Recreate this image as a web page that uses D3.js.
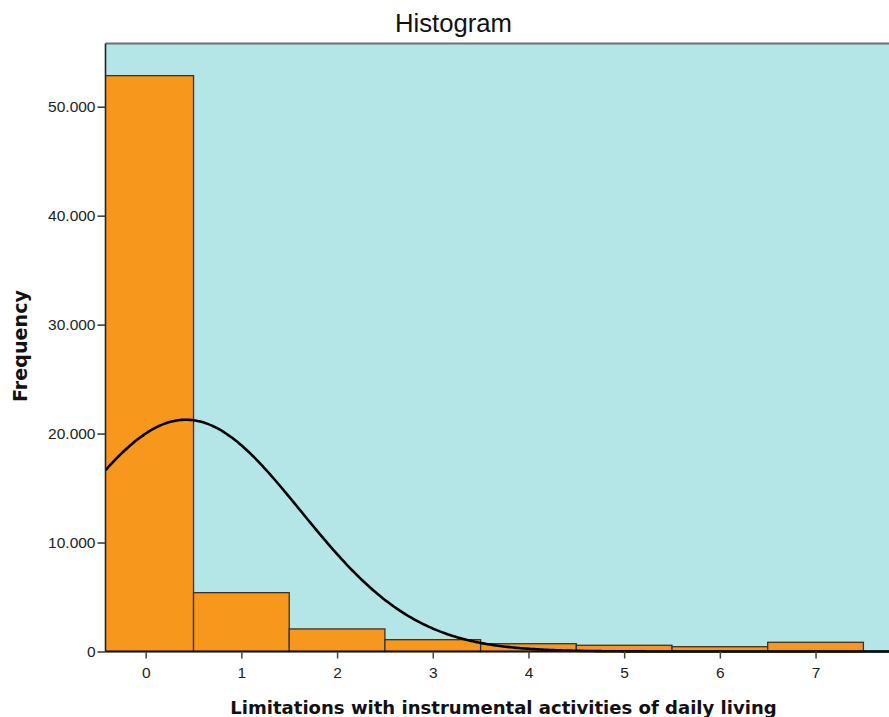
<!DOCTYPE html>
<html>
<head>
<meta charset="utf-8">
<script src="https://cdn.jsdelivr.net/npm/d3@7/dist/d3.min.js"></script>
<style>
  html, body { margin: 0; padding: 0; background: #ffffff; }
  svg { display: block; }
</style>
</head>
<body>
<svg id="chart" width="889" height="717"></svg>
<script>
// Number of limitations (bin centres) and counts per bin
const categories = [0, 1, 2, 3, 4, 5, 6, 7];
const frequencies = [52850, 5400, 2070, 1085, 715, 570, 440, 845];
const xTickValues = [0, 1, 2, 3, 4, 5, 6, 7];
const yTickValues = [0, 10000, 20000, 30000, 40000, 50000];
// Fitted normal curve parameters
const curveMean = 0.42;
const curveSd = 1.2;

const svg = d3.select("#chart");
const W = 889, H = 717;
const plot = { left: 105.5, top: 43.5, right: 905, bottom: 651.5 };

const x = d3.scaleLinear().domain([-0.42, 7.94]).range([plot.left, plot.left + 800]);
const y = d3.scaleLinear().domain([0, 55800]).range([plot.bottom, plot.top]);

const total = d3.sum(frequencies);
const binWidth = 1;

svg.append("defs").append("clipPath").attr("id", "plot-clip")
  .append("rect")
  .attr("x", plot.left).attr("y", plot.top - 2)
  .attr("width", W - plot.left + 10).attr("height", plot.bottom - plot.top + 4);

// plot background
svg.append("rect")
  .attr("x", plot.left).attr("y", plot.top)
  .attr("width", W - plot.left + 10).attr("height", plot.bottom - plot.top)
  .attr("fill", "#b4e6e8");

// top frame line
svg.append("line")
  .attr("x1", plot.left).attr("x2", W + 5)
  .attr("y1", plot.top).attr("y2", plot.top)
  .attr("stroke", "#6f6f6f").attr("stroke-width", 2);

const inner = svg.append("g").attr("clip-path", "url(#plot-clip)");

// bars
inner.append("g").selectAll("rect")
  .data(categories)
  .join("rect")
  .attr("x", (d) => x(d - binWidth / 2))
  .attr("width", (d) => x(d + binWidth / 2) - x(d - binWidth / 2))
  .attr("y", (d, i) => y(frequencies[i]))
  .attr("height", (d, i) => y(0) - y(frequencies[i]))
  .attr("fill", "#f7981d")
  .attr("stroke", "#3b3226")
  .attr("stroke-width", 1.3);

// normal curve
const normal = (v) => total * binWidth / (curveSd * Math.sqrt(2 * Math.PI)) *
  Math.exp(-0.5 * Math.pow((v - curveMean) / curveSd, 2));
const curvePts = d3.range(-0.42, 7.95, 0.02).map((v) => [v, normal(v)]);
inner.append("path")
  .datum(curvePts)
  .attr("fill", "none")
  .attr("stroke", "#000")
  .attr("stroke-width", 2.6)
  .attr("d", d3.line().x((d) => x(d[0])).y((d) => y(d[1])).curve(d3.curveBasis));

// axes
const locale = d3.formatLocale({ decimal: ",", thousands: ".", grouping: [3], currency: ["", ""] });
const fmt = locale.format(",");

const yAxis = svg.append("g")
  .attr("transform", `translate(${plot.left},0)`)
  .call(d3.axisLeft(y).tickValues(yTickValues).tickFormat(fmt).tickSize(8).tickPadding(2));
yAxis.select(".domain").attr("stroke", "#222").attr("stroke-width", 1.6).attr("d", `M0,${plot.top}V${plot.bottom}`);
yAxis.selectAll(".tick line").attr("stroke", "#333").attr("stroke-width", 1.5);
yAxis.selectAll(".tick text")
  .attr("font-family", "Liberation Sans, Arial, sans-serif")
  .attr("font-size", 15.5).attr("fill", "#222");

const xAxis = svg.append("g")
  .attr("transform", `translate(0,${plot.bottom})`)
  .call(d3.axisBottom(x).tickValues(xTickValues).tickFormat(d3.format("d")).tickSize(7).tickPadding(8));
xAxis.select(".domain").attr("stroke", "#111").attr("stroke-width", 1.8).attr("d", `M${plot.left},0H${W + 5}`);
xAxis.selectAll(".tick line").attr("stroke", "#444").attr("stroke-width", 1.5);
xAxis.selectAll(".tick text")
  .attr("font-family", "Liberation Sans, Arial, sans-serif")
  .attr("font-size", 15.5).attr("fill", "#222");

// text labels, sized to a target width
function fitText(sel, width) {
  const len = sel.node().getComputedTextLength();
  const fs = parseFloat(sel.attr("font-size"));
  sel.attr("font-size", fs * width / len);
}

const title = svg.append("text")
  .attr("x", 453.5).attr("y", 32)
  .attr("text-anchor", "middle")
  .attr("font-family", "Liberation Sans, Arial, sans-serif")
  .attr("font-size", 22).attr("fill", "#111")
  .text("Histogram");
fitText(title, 117);

const xLabel = svg.append("text")
  .attr("x", 503.5).attr("y", 714)
  .attr("text-anchor", "middle")
  .attr("font-family", "DejaVu Sans, Verdana, sans-serif")
  .attr("font-weight", "bold")
  .attr("font-size", 18).attr("fill", "#111")
  .text("Limitations with instrumental activities of daily living");
fitText(xLabel, 547);

const yLabel = svg.append("text")
  .attr("transform", "translate(27,346) rotate(-90)")
  .attr("text-anchor", "middle")
  .attr("font-family", "DejaVu Sans, Verdana, sans-serif")
  .attr("font-weight", "bold")
  .attr("font-size", 18).attr("fill", "#111")
  .text("Frequency");
fitText(yLabel, 112);
</script>
</body>
</html>
